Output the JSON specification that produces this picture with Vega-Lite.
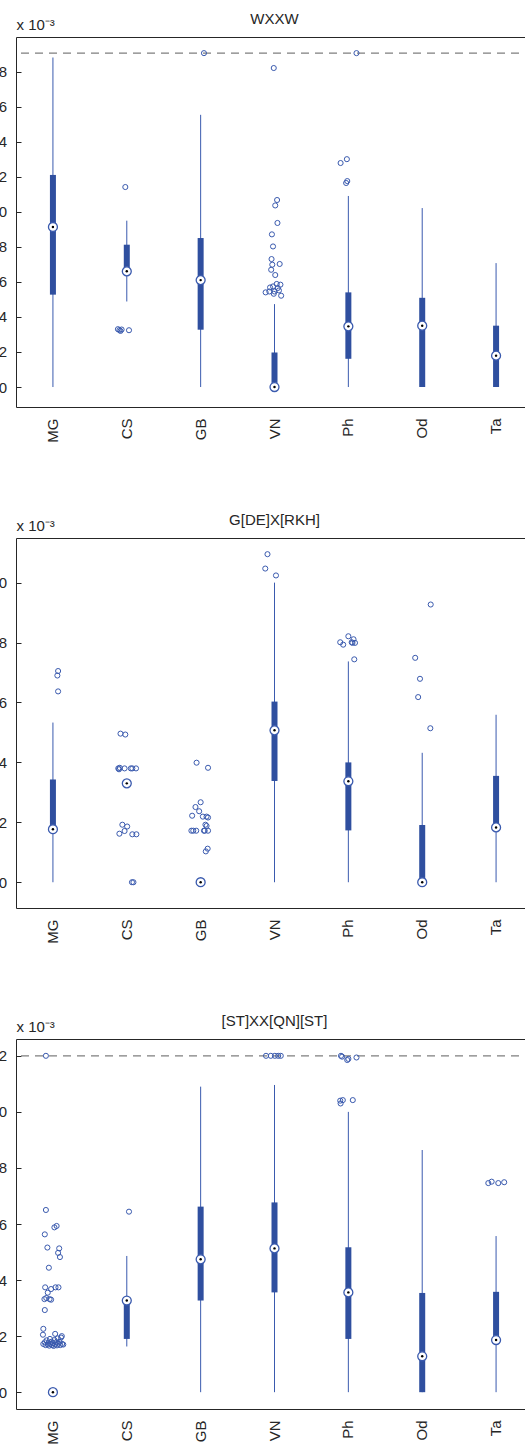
{
  "$schema": "https://vega.github.io/schema/vega-lite/v6.json",
  "padding": {"left": -11, "right": -10, "top": 11, "bottom": 0},
  "background": "white",
  "config": {
    "font": "Liberation Sans",
    "view": {"stroke": "#262626", "strokeWidth": 1},
    "title": {"fontSize": 15, "fontWeight": "normal", "color": "#262626", "offset": -10},
    "axis": {"grid": false, "labelFont": "Liberation Sans", "labelFontSize": 15, "labelColor": "#262626", "domain": false, "tickColor": "#262626"}
  },
  "datasets": {
    "boxes": [
      {"panel": 1, "cat": "MG", "lo": 0, "q1": 5.27, "med": 9.13, "q3": 12.1, "hi": 18.8},
      {"panel": 1, "cat": "CS", "lo": 4.88, "q1": 6.6, "med": 6.6, "q3": 8.12, "hi": 9.49},
      {"panel": 1, "cat": "GB", "lo": 0, "q1": 3.27, "med": 6.1, "q3": 8.5, "hi": 15.53},
      {"panel": 1, "cat": "VN", "lo": 0, "q1": 0, "med": 0, "q3": 1.97, "hi": 4.73},
      {"panel": 1, "cat": "Ph", "lo": 0, "q1": 1.61, "med": 3.46, "q3": 5.4, "hi": 10.9},
      {"panel": 1, "cat": "Od", "lo": 0, "q1": 0, "med": 3.5, "q3": 5.09, "hi": 10.21},
      {"panel": 1, "cat": "Ta", "lo": 0, "q1": 0, "med": 1.79, "q3": 3.5, "hi": 7.07},
      {"panel": 2, "cat": "MG", "lo": 0, "q1": 1.77, "med": 1.77, "q3": 3.43, "hi": 5.33},
      {"panel": 2, "cat": "CS", "lo": 3.3, "q1": 3.3, "med": 3.3, "q3": 3.3, "hi": 3.3},
      {"panel": 2, "cat": "GB", "lo": 0, "q1": 0, "med": 0, "q3": 0, "hi": 0},
      {"panel": 2, "cat": "VN", "lo": 0, "q1": 3.38, "med": 5.07, "q3": 6.03, "hi": 10.0},
      {"panel": 2, "cat": "Ph", "lo": 0, "q1": 1.73, "med": 3.37, "q3": 4.0, "hi": 7.37},
      {"panel": 2, "cat": "Od", "lo": 0, "q1": 0, "med": 0, "q3": 1.91, "hi": 4.32},
      {"panel": 2, "cat": "Ta", "lo": 0, "q1": 1.83, "med": 1.83, "q3": 3.55, "hi": 5.59},
      {"panel": 3, "cat": "MG", "lo": 0, "q1": 0, "med": 0, "q3": 0, "hi": 0},
      {"panel": 3, "cat": "CS", "lo": 1.63, "q1": 1.9, "med": 3.27, "q3": 3.27, "hi": 4.86},
      {"panel": 3, "cat": "GB", "lo": 0, "q1": 3.27, "med": 4.74, "q3": 6.62, "hi": 10.9},
      {"panel": 3, "cat": "VN", "lo": 0, "q1": 3.56, "med": 5.13, "q3": 6.77, "hi": 10.96},
      {"panel": 3, "cat": "Ph", "lo": 0, "q1": 1.9, "med": 3.56, "q3": 5.17, "hi": 10.0},
      {"panel": 3, "cat": "Od", "lo": 0, "q1": 0, "med": 1.28, "q3": 3.54, "hi": 8.64},
      {"panel": 3, "cat": "Ta", "lo": 0, "q1": 1.86, "med": 1.86, "q3": 3.58, "hi": 5.57}
    ],
    "outliers": [
      {"panel": 1, "cat": "CS", "jit": -0.02, "v": 11.41},
      {"panel": 1, "cat": "CS", "jit": -0.12, "v": 3.3},
      {"panel": 1, "cat": "CS", "jit": -0.1, "v": 3.25},
      {"panel": 1, "cat": "CS", "jit": -0.085, "v": 3.2},
      {"panel": 1, "cat": "CS", "jit": -0.07, "v": 3.28},
      {"panel": 1, "cat": "CS", "jit": 0.03, "v": 3.24},
      {"panel": 1, "cat": "GB", "jit": 0.045, "v": 19.05},
      {"panel": 1, "cat": "VN", "jit": -0.01, "v": 18.2},
      {"panel": 1, "cat": "VN", "jit": 0.035, "v": 10.67},
      {"panel": 1, "cat": "VN", "jit": 0.01, "v": 10.36},
      {"panel": 1, "cat": "VN", "jit": 0.04, "v": 9.36},
      {"panel": 1, "cat": "VN", "jit": -0.035, "v": 8.71},
      {"panel": 1, "cat": "VN", "jit": -0.02, "v": 8.02},
      {"panel": 1, "cat": "VN", "jit": -0.04, "v": 7.3},
      {"panel": 1, "cat": "VN", "jit": -0.03, "v": 6.98},
      {"panel": 1, "cat": "VN", "jit": 0.07, "v": 7.02},
      {"panel": 1, "cat": "VN", "jit": -0.045, "v": 6.69},
      {"panel": 1, "cat": "VN", "jit": 0.01, "v": 6.39},
      {"panel": 1, "cat": "VN", "jit": 0.03, "v": 5.88},
      {"panel": 1, "cat": "VN", "jit": 0.08, "v": 5.84},
      {"panel": 1, "cat": "VN", "jit": -0.06, "v": 5.68},
      {"panel": 1, "cat": "VN", "jit": -0.02, "v": 5.74},
      {"panel": 1, "cat": "VN", "jit": 0.045, "v": 5.65},
      {"panel": 1, "cat": "VN", "jit": -0.12, "v": 5.4},
      {"panel": 1, "cat": "VN", "jit": -0.07, "v": 5.45},
      {"panel": 1, "cat": "VN", "jit": 0.0, "v": 5.45},
      {"panel": 1, "cat": "VN", "jit": 0.06, "v": 5.51},
      {"panel": 1, "cat": "VN", "jit": -0.01, "v": 5.32},
      {"panel": 1, "cat": "VN", "jit": 0.09, "v": 5.21},
      {"panel": 1, "cat": "Ph", "jit": -0.105, "v": 12.78},
      {"panel": 1, "cat": "Ph", "jit": -0.02, "v": 13.0},
      {"panel": 1, "cat": "Ph", "jit": -0.03, "v": 11.64},
      {"panel": 1, "cat": "Ph", "jit": -0.015, "v": 11.75},
      {"panel": 1, "cat": "Ph", "jit": 0.11, "v": 19.05},
      {"panel": 2, "cat": "MG", "jit": 0.07, "v": 7.05},
      {"panel": 2, "cat": "MG", "jit": 0.06, "v": 6.9},
      {"panel": 2, "cat": "MG", "jit": 0.07, "v": 6.37},
      {"panel": 2, "cat": "CS", "jit": -0.085, "v": 4.96},
      {"panel": 2, "cat": "CS", "jit": -0.02, "v": 4.93},
      {"panel": 2, "cat": "CS", "jit": -0.115, "v": 3.8},
      {"panel": 2, "cat": "CS", "jit": -0.095, "v": 3.82},
      {"panel": 2, "cat": "CS", "jit": -0.105, "v": 3.77},
      {"panel": 2, "cat": "CS", "jit": -0.03, "v": 3.8},
      {"panel": 2, "cat": "CS", "jit": 0.055, "v": 3.8},
      {"panel": 2, "cat": "CS", "jit": 0.075, "v": 3.8},
      {"panel": 2, "cat": "CS", "jit": 0.125, "v": 3.8},
      {"panel": 2, "cat": "CS", "jit": -0.06, "v": 1.92},
      {"panel": 2, "cat": "CS", "jit": 0.005, "v": 1.86},
      {"panel": 2, "cat": "CS", "jit": -0.03, "v": 1.71},
      {"panel": 2, "cat": "CS", "jit": -0.1, "v": 1.62},
      {"panel": 2, "cat": "CS", "jit": 0.075, "v": 1.6},
      {"panel": 2, "cat": "CS", "jit": 0.13, "v": 1.6},
      {"panel": 2, "cat": "CS", "jit": 0.07, "v": 0},
      {"panel": 2, "cat": "CS", "jit": 0.09, "v": 0},
      {"panel": 2, "cat": "GB", "jit": -0.055, "v": 3.99},
      {"panel": 2, "cat": "GB", "jit": 0.1, "v": 3.82},
      {"panel": 2, "cat": "GB", "jit": 0.0, "v": 2.67},
      {"panel": 2, "cat": "GB", "jit": -0.07, "v": 2.51},
      {"panel": 2, "cat": "GB", "jit": -0.02, "v": 2.37},
      {"panel": 2, "cat": "GB", "jit": -0.115, "v": 2.22},
      {"panel": 2, "cat": "GB", "jit": 0.03, "v": 2.19},
      {"panel": 2, "cat": "GB", "jit": 0.08, "v": 2.19},
      {"panel": 2, "cat": "GB", "jit": 0.1, "v": 2.16},
      {"panel": 2, "cat": "GB", "jit": 0.065, "v": 1.92},
      {"panel": 2, "cat": "GB", "jit": 0.08, "v": 1.88},
      {"panel": 2, "cat": "GB", "jit": -0.125, "v": 1.72},
      {"panel": 2, "cat": "GB", "jit": -0.1, "v": 1.72},
      {"panel": 2, "cat": "GB", "jit": -0.06, "v": 1.72},
      {"panel": 2, "cat": "GB", "jit": 0.045, "v": 1.72},
      {"panel": 2, "cat": "GB", "jit": 0.1, "v": 1.72},
      {"panel": 2, "cat": "GB", "jit": 0.055, "v": 1.72},
      {"panel": 2, "cat": "GB", "jit": 0.095, "v": 1.12},
      {"panel": 2, "cat": "GB", "jit": 0.07, "v": 1.03},
      {"panel": 2, "cat": "VN", "jit": -0.095, "v": 10.95},
      {"panel": 2, "cat": "VN", "jit": -0.125, "v": 10.47},
      {"panel": 2, "cat": "VN", "jit": 0.02, "v": 10.24},
      {"panel": 2, "cat": "Ph", "jit": -0.11, "v": 8.01},
      {"panel": 2, "cat": "Ph", "jit": -0.07, "v": 7.93},
      {"panel": 2, "cat": "Ph", "jit": 0.0, "v": 8.21},
      {"panel": 2, "cat": "Ph", "jit": 0.045, "v": 8.01},
      {"panel": 2, "cat": "Ph", "jit": 0.07, "v": 8.11},
      {"panel": 2, "cat": "Ph", "jit": 0.09, "v": 7.99},
      {"panel": 2, "cat": "Ph", "jit": 0.055, "v": 7.99},
      {"panel": 2, "cat": "Ph", "jit": 0.08, "v": 7.44},
      {"panel": 2, "cat": "Od", "jit": 0.115, "v": 9.27},
      {"panel": 2, "cat": "Od", "jit": -0.095, "v": 7.49},
      {"panel": 2, "cat": "Od", "jit": -0.03, "v": 6.79},
      {"panel": 2, "cat": "Od", "jit": -0.055, "v": 6.18},
      {"panel": 2, "cat": "Od", "jit": 0.11, "v": 5.14},
      {"panel": 3, "cat": "MG", "jit": -0.095, "v": 12.0},
      {"panel": 3, "cat": "MG", "jit": -0.095, "v": 6.5},
      {"panel": 3, "cat": "MG", "jit": 0.05, "v": 5.93},
      {"panel": 3, "cat": "MG", "jit": 0.02, "v": 5.88},
      {"panel": 3, "cat": "MG", "jit": -0.11, "v": 5.63},
      {"panel": 3, "cat": "MG", "jit": -0.075, "v": 5.16},
      {"panel": 3, "cat": "MG", "jit": 0.085, "v": 5.13},
      {"panel": 3, "cat": "MG", "jit": 0.07, "v": 4.97},
      {"panel": 3, "cat": "MG", "jit": 0.095, "v": 4.82},
      {"panel": 3, "cat": "MG", "jit": -0.055, "v": 4.44},
      {"panel": 3, "cat": "MG", "jit": -0.105, "v": 3.74},
      {"panel": 3, "cat": "MG", "jit": 0.075, "v": 3.74},
      {"panel": 3, "cat": "MG", "jit": 0.035, "v": 3.74},
      {"panel": 3, "cat": "MG", "jit": -0.025, "v": 3.68},
      {"panel": 3, "cat": "MG", "jit": -0.07, "v": 3.55},
      {"panel": 3, "cat": "MG", "jit": -0.115, "v": 3.32},
      {"panel": 3, "cat": "MG", "jit": -0.045, "v": 3.32},
      {"panel": 3, "cat": "MG", "jit": -0.025, "v": 3.3},
      {"panel": 3, "cat": "MG", "jit": -0.09, "v": 3.36},
      {"panel": 3, "cat": "MG", "jit": -0.11, "v": 2.93},
      {"panel": 3, "cat": "MG", "jit": -0.13, "v": 2.26},
      {"panel": 3, "cat": "MG", "jit": -0.135, "v": 2.05},
      {"panel": 3, "cat": "MG", "jit": 0.03, "v": 2.08},
      {"panel": 3, "cat": "MG", "jit": 0.12, "v": 2.0},
      {"panel": 3, "cat": "MG", "jit": -0.13, "v": 1.72},
      {"panel": 3, "cat": "MG", "jit": -0.11, "v": 1.78},
      {"panel": 3, "cat": "MG", "jit": -0.1, "v": 1.68},
      {"panel": 3, "cat": "MG", "jit": -0.085, "v": 1.85},
      {"panel": 3, "cat": "MG", "jit": -0.07, "v": 1.7},
      {"panel": 3, "cat": "MG", "jit": -0.06, "v": 1.76},
      {"panel": 3, "cat": "MG", "jit": -0.05, "v": 1.66},
      {"panel": 3, "cat": "MG", "jit": -0.04, "v": 1.9},
      {"panel": 3, "cat": "MG", "jit": -0.03, "v": 1.72},
      {"panel": 3, "cat": "MG", "jit": -0.02, "v": 1.8},
      {"panel": 3, "cat": "MG", "jit": -0.01, "v": 1.68},
      {"panel": 3, "cat": "MG", "jit": 0.0, "v": 1.75},
      {"panel": 3, "cat": "MG", "jit": 0.01, "v": 1.65},
      {"panel": 3, "cat": "MG", "jit": 0.02, "v": 1.86},
      {"panel": 3, "cat": "MG", "jit": 0.03, "v": 1.7},
      {"panel": 3, "cat": "MG", "jit": 0.045, "v": 1.78},
      {"panel": 3, "cat": "MG", "jit": 0.055, "v": 1.67},
      {"panel": 3, "cat": "MG", "jit": 0.065, "v": 1.92},
      {"panel": 3, "cat": "MG", "jit": 0.075, "v": 1.73},
      {"panel": 3, "cat": "MG", "jit": 0.09, "v": 1.8},
      {"panel": 3, "cat": "MG", "jit": 0.1, "v": 1.68},
      {"panel": 3, "cat": "MG", "jit": 0.11, "v": 1.95},
      {"panel": 3, "cat": "MG", "jit": 0.125, "v": 1.72},
      {"panel": 3, "cat": "MG", "jit": 0.14, "v": 1.7},
      {"panel": 3, "cat": "CS", "jit": 0.03, "v": 6.44},
      {"panel": 3, "cat": "VN", "jit": -0.115, "v": 12.0},
      {"panel": 3, "cat": "VN", "jit": -0.05, "v": 12.0},
      {"panel": 3, "cat": "VN", "jit": 0.005, "v": 12.0},
      {"panel": 3, "cat": "VN", "jit": 0.05, "v": 12.0},
      {"panel": 3, "cat": "VN", "jit": 0.085, "v": 12.0},
      {"panel": 3, "cat": "Ph", "jit": -0.1, "v": 12.0},
      {"panel": 3, "cat": "Ph", "jit": -0.085, "v": 11.97},
      {"panel": 3, "cat": "Ph", "jit": -0.015, "v": 11.85},
      {"panel": 3, "cat": "Ph", "jit": 0.0, "v": 11.89},
      {"panel": 3, "cat": "Ph", "jit": 0.11, "v": 11.94},
      {"panel": 3, "cat": "Ph", "jit": -0.11, "v": 10.4},
      {"panel": 3, "cat": "Ph", "jit": -0.075, "v": 10.42},
      {"panel": 3, "cat": "Ph", "jit": -0.105, "v": 10.3},
      {"panel": 3, "cat": "Ph", "jit": 0.06, "v": 10.42},
      {"panel": 3, "cat": "Ta", "jit": -0.105, "v": 7.46},
      {"panel": 3, "cat": "Ta", "jit": -0.06, "v": 7.51},
      {"panel": 3, "cat": "Ta", "jit": 0.03, "v": 7.46},
      {"panel": 3, "cat": "Ta", "jit": 0.11, "v": 7.49}
    ],
    "limits": [
      {"panel": 1, "v": 19.05},
      {"panel": 3, "v": 12.0}
    ]
  },
  "spacing": 131,
  "bounds": "flush",
  "vconcat": [
    {
      "title": {"text": "WXXW"},
      "width": 517,
      "height": 370,
      "layer": [
        {"data": {"name": "limits"}, "transform": [{"filter": "datum.panel == 1"}],
         "mark": {"type": "rule", "color": "#7f7f7f", "strokeDash": [8, 6], "strokeWidth": 1.2},
         "encoding": {"y": {"field": "v", "type": "quantitative"}}},
        {"data": {"name": "boxes"}, "transform": [{"filter": "datum.panel == 1"}],
         "mark": {"type": "rule", "color": "#3a5aae", "strokeWidth": 1},
         "encoding": {
           "x": {"field": "cat", "type": "nominal", "scale": {"type": "band", "domain": ["MG", "CS", "GB", "VN", "Ph", "Od", "Ta"], "paddingInner": 0, "paddingOuter": 0},
                 "axis": {"title": null, "ticks": false, "labelAngle": -90, "labelPadding": 11}},
           "y": {"field": "lo", "type": "quantitative", "scale": {"domain": [-1.14, 19.97], "nice": false, "zero": false},
                 "axis": {"values": [0, 2, 4, 6, 8, 10, 12, 14, 16, 18], "tickSize": -5, "labelPadding": 14.5, "title": "x 10⁻³", "titleAngle": 0, "titleAlign": "left", "titleBaseline": "alphabetic", "titleX": 0, "titleY": -8, "titleFontSize": 15, "titleFontWeight": "normal", "titleColor": "#262626"}},
           "y2": {"field": "hi"}}},
        {"data": {"name": "boxes"}, "transform": [{"filter": "datum.panel == 1"}],
         "mark": {"type": "bar", "size": 6, "color": "#2f4f9f"},
         "encoding": {"x": {"field": "cat", "type": "nominal"}, "y": {"field": "q1", "type": "quantitative"}, "y2": {"field": "q3"}}},
        {"data": {"name": "outliers"}, "transform": [{"filter": "datum.panel == 1"}],
         "mark": {"type": "point", "shape": "circle", "filled": false, "size": 26, "strokeWidth": 1, "color": "#3a5aae", "opacity": 1},
         "encoding": {"x": {"field": "cat", "type": "nominal"}, "xOffset": {"field": "jit", "type": "quantitative", "scale": {"domain": [-0.5, 0.5]}}, "y": {"field": "v", "type": "quantitative"}}},
        {"data": {"name": "boxes"}, "transform": [{"filter": "datum.panel == 1"}],
         "mark": {"type": "point", "shape": "circle", "filled": true, "fill": "white", "stroke": "#3a5aae", "strokeWidth": 1.3, "size": 80, "opacity": 1},
         "encoding": {"x": {"field": "cat", "type": "nominal"}, "y": {"field": "med", "type": "quantitative"}}},
        {"data": {"name": "boxes"}, "transform": [{"filter": "datum.panel == 1"}],
         "mark": {"type": "point", "shape": "circle", "filled": true, "color": "black", "size": 6, "opacity": 1},
         "encoding": {"x": {"field": "cat", "type": "nominal"}, "y": {"field": "med", "type": "quantitative"}}}
      ]
    },
    {
      "title": {"text": "G[DE]X[RKH]"},
      "width": 517,
      "height": 370,
      "layer": [
        {"data": {"name": "boxes"}, "transform": [{"filter": "datum.panel == 2"}],
         "mark": {"type": "rule", "color": "#3a5aae", "strokeWidth": 1},
         "encoding": {
           "x": {"field": "cat", "type": "nominal", "scale": {"type": "band", "domain": ["MG", "CS", "GB", "VN", "Ph", "Od", "Ta"], "paddingInner": 0, "paddingOuter": 0},
                 "axis": {"title": null, "ticks": false, "labelAngle": -90, "labelPadding": 11}},
           "y": {"field": "lo", "type": "quantitative", "scale": {"domain": [-0.86, 11.49], "nice": false, "zero": false},
                 "axis": {"values": [0, 2, 4, 6, 8, 10], "tickSize": -5, "labelPadding": 14.5, "title": "x 10⁻³", "titleAngle": 0, "titleAlign": "left", "titleBaseline": "alphabetic", "titleX": 0, "titleY": -8, "titleFontSize": 15, "titleFontWeight": "normal", "titleColor": "#262626"}},
           "y2": {"field": "hi"}}},
        {"data": {"name": "boxes"}, "transform": [{"filter": "datum.panel == 2"}],
         "mark": {"type": "bar", "size": 6, "color": "#2f4f9f"},
         "encoding": {"x": {"field": "cat", "type": "nominal"}, "y": {"field": "q1", "type": "quantitative"}, "y2": {"field": "q3"}}},
        {"data": {"name": "outliers"}, "transform": [{"filter": "datum.panel == 2"}],
         "mark": {"type": "point", "shape": "circle", "filled": false, "size": 26, "strokeWidth": 1, "color": "#3a5aae", "opacity": 1},
         "encoding": {"x": {"field": "cat", "type": "nominal"}, "xOffset": {"field": "jit", "type": "quantitative", "scale": {"domain": [-0.5, 0.5]}}, "y": {"field": "v", "type": "quantitative"}}},
        {"data": {"name": "boxes"}, "transform": [{"filter": "datum.panel == 2"}],
         "mark": {"type": "point", "shape": "circle", "filled": true, "fill": "white", "stroke": "#3a5aae", "strokeWidth": 1.3, "size": 80, "opacity": 1},
         "encoding": {"x": {"field": "cat", "type": "nominal"}, "y": {"field": "med", "type": "quantitative"}}},
        {"data": {"name": "boxes"}, "transform": [{"filter": "datum.panel == 2"}],
         "mark": {"type": "point", "shape": "circle", "filled": true, "color": "black", "size": 6, "opacity": 1},
         "encoding": {"x": {"field": "cat", "type": "nominal"}, "y": {"field": "med", "type": "quantitative"}}}
      ]
    },
    {
      "title": {"text": "[ST]XX[QN][ST]"},
      "width": 517,
      "height": 370,
      "layer": [
        {"data": {"name": "limits"}, "transform": [{"filter": "datum.panel == 3"}],
         "mark": {"type": "rule", "color": "#7f7f7f", "strokeDash": [8, 6], "strokeWidth": 1.2},
         "encoding": {"y": {"field": "v", "type": "quantitative"}}},
        {"data": {"name": "boxes"}, "transform": [{"filter": "datum.panel == 3"}],
         "mark": {"type": "rule", "color": "#3a5aae", "strokeWidth": 1},
         "encoding": {
           "x": {"field": "cat", "type": "nominal", "scale": {"type": "band", "domain": ["MG", "CS", "GB", "VN", "Ph", "Od", "Ta"], "paddingInner": 0, "paddingOuter": 0},
                 "axis": {"title": null, "ticks": false, "labelAngle": -90, "labelPadding": 11}},
           "y": {"field": "lo", "type": "quantitative", "scale": {"domain": [-0.6, 12.6], "nice": false, "zero": false},
                 "axis": {"values": [0, 2, 4, 6, 8, 10, 12], "tickSize": -5, "labelPadding": 14.5, "title": "x 10⁻³", "titleAngle": 0, "titleAlign": "left", "titleBaseline": "alphabetic", "titleX": 0, "titleY": -8, "titleFontSize": 15, "titleFontWeight": "normal", "titleColor": "#262626"}},
           "y2": {"field": "hi"}}},
        {"data": {"name": "boxes"}, "transform": [{"filter": "datum.panel == 3"}],
         "mark": {"type": "bar", "size": 6, "color": "#2f4f9f"},
         "encoding": {"x": {"field": "cat", "type": "nominal"}, "y": {"field": "q1", "type": "quantitative"}, "y2": {"field": "q3"}}},
        {"data": {"name": "outliers"}, "transform": [{"filter": "datum.panel == 3"}],
         "mark": {"type": "point", "shape": "circle", "filled": false, "size": 26, "strokeWidth": 1, "color": "#3a5aae", "opacity": 1},
         "encoding": {"x": {"field": "cat", "type": "nominal"}, "xOffset": {"field": "jit", "type": "quantitative", "scale": {"domain": [-0.5, 0.5]}}, "y": {"field": "v", "type": "quantitative"}}},
        {"data": {"name": "boxes"}, "transform": [{"filter": "datum.panel == 3"}],
         "mark": {"type": "point", "shape": "circle", "filled": true, "fill": "white", "stroke": "#3a5aae", "strokeWidth": 1.3, "size": 80, "opacity": 1},
         "encoding": {"x": {"field": "cat", "type": "nominal"}, "y": {"field": "med", "type": "quantitative"}}},
        {"data": {"name": "boxes"}, "transform": [{"filter": "datum.panel == 3"}],
         "mark": {"type": "point", "shape": "circle", "filled": true, "color": "black", "size": 6, "opacity": 1},
         "encoding": {"x": {"field": "cat", "type": "nominal"}, "y": {"field": "med", "type": "quantitative"}}}
      ]
    }
  ]
}
